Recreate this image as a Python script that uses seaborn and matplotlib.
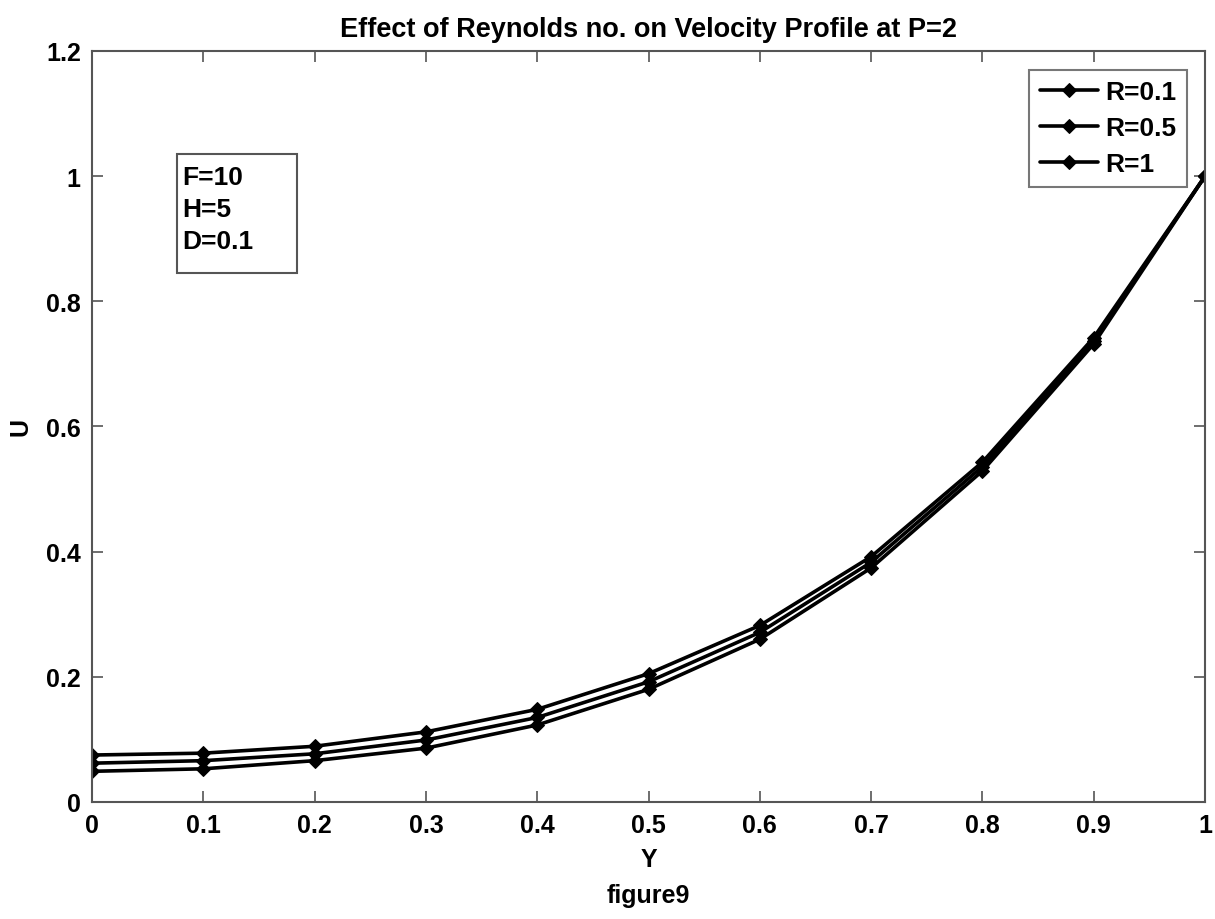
import matplotlib
matplotlib.use("Agg")
import matplotlib.pyplot as plt
import matplotlib.patches as mpatches
import seaborn as sns
import pandas as pd

y_vals = [0.0, 0.1, 0.2, 0.3, 0.4, 0.5, 0.6, 0.7, 0.8, 0.9, 1.0]
u_r01 = [0.075, 0.078, 0.089, 0.112, 0.148, 0.205, 0.282, 0.392, 0.543, 0.742, 1.0]
u_r05 = [0.062, 0.066, 0.077, 0.099, 0.135, 0.192, 0.271, 0.383, 0.536, 0.737, 1.0]
u_r1 = [0.049, 0.053, 0.066, 0.086, 0.123, 0.180, 0.260, 0.374, 0.529, 0.732, 1.0]
labels = ["R=0.1", "R=0.5", "R=1"]
x_ticks = [0, 0.1, 0.2, 0.3, 0.4, 0.5, 0.6, 0.7, 0.8, 0.9, 1]
x_tick_labels = ["0", "0.1", "0.2", "0.3", "0.4", "0.5", "0.6", "0.7", "0.8", "0.9", "1"]
y_ticks = [0, 0.2, 0.4, 0.6, 0.8, 1.0, 1.2]
y_tick_labels = ["0", "0.2", "0.4", "0.6", "0.8", "1", "1.2"]

rows = []
for lab, vals in zip(labels, [u_r01, u_r05, u_r1]):
    for x, u in zip(y_vals, vals):
        rows.append({"Y": x, "U": u, "R": lab})
df = pd.DataFrame(rows)

sns.set_style("white")
plt.rcParams['font.family'] = ['Liberation Sans Narrow', 'Liberation Sans', 'DejaVu Sans']
plt.rcParams['font.weight'] = 'bold'
plt.rcParams['text.color'] = 'black'
plt.rcParams['axes.labelcolor'] = 'black'
plt.rcParams['xtick.color'] = '#555555'
plt.rcParams['ytick.color'] = '#555555'
plt.rcParams['xtick.labelcolor'] = 'black'
plt.rcParams['ytick.labelcolor'] = 'black'

fig = plt.figure(figsize=(12.15, 9.2), dpi=100)
ax = fig.add_axes([0.0757, 0.1272, 0.9161, 0.8163])

sns.lineplot(data=df, x="Y", y="U", hue="R", style="R",
             palette=["black"] * 3, dashes=False,
             markers=["D", "D", "D"], markersize=7.5, linewidth=2.6,
             markeredgecolor="black", ax=ax, legend=True)

ax.set_xlim(0, 1)
ax.set_ylim(0, 1.2)
ax.set_xticks(x_ticks)
ax.set_xticklabels(x_tick_labels, fontsize=18, fontweight='bold')
ax.set_yticks(y_ticks)
ax.set_yticklabels(y_tick_labels, fontsize=18, fontweight='bold')
ax.tick_params(direction="in", length=8, width=1.2,
               top=True, right=True, bottom=True, left=True, pad=8)
for s in ax.spines.values():
    s.set_visible(True)
    s.set_color("#555555")
    s.set_linewidth(1.5)

ax.set_xlabel("Y\nfigure9", fontsize=18, fontweight='bold', labelpad=7, linespacing=1.65)
ax.set_ylabel("U", fontsize=18, fontweight='bold', labelpad=10)
ax.set_title("Effect of Reynolds no. on Velocity Profile at P=2",
             fontsize=19.5, fontweight='bold', pad=11)

leg = ax.legend(loc="upper right", fontsize=19, frameon=True, fancybox=False,
                handlelength=2.2, handletextpad=0.3, borderpad=0.4,
                labelspacing=0.45, borderaxespad=0.0,
                bbox_to_anchor=(0.984, 0.975))
leg.get_frame().set_edgecolor("#555555")
leg.get_frame().set_linewidth(1.5)
for t in leg.get_texts():
    t.set_fontweight('bold')
    t.set_color('black')

rect = mpatches.Rectangle((0.0764, 0.704), 0.1078, 0.159, transform=ax.transAxes,
                          fill=True, fc="white", ec="#555555", lw=1.5, zorder=5)
ax.add_patch(rect)
ax.text(0.081, 0.848, "F=10\nH=5\nD=0.1", transform=ax.transAxes,
        fontsize=19, fontweight='bold', va='top', ha='left', linespacing=1.42,
        zorder=6, color='black')

fig.savefig("out.png", dpi=100)
